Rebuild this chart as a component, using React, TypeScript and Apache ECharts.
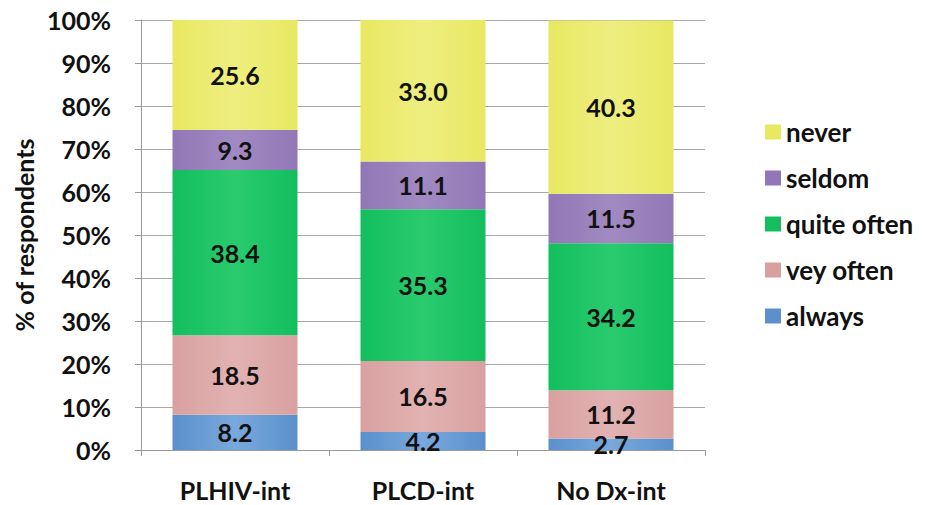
import React, { useEffect, useRef } from "react";
import * as echarts from "echarts";

const categories = ["PLHIV-int", "PLCD-int", "No Dx-int"];
const always = [8.2, 4.2, 2.7];
const veryOften = [18.5, 16.5, 11.2];
const quiteOften = [38.4, 35.3, 34.2];
const seldom = [9.3, 11.1, 11.5];
const never = [25.6, 33.0, 40.3];
const seriesNames = ["always", "vey often", "quite often", "seldom", "never"];
const colors = ["#5B90CC", "#D9A0A0", "#12BE5E", "#9277B6", "#E8E862"];
const colorsLight = ["#79A8DC", "#E2B2B2", "#2ACB6E", "#A18AC2", "#EEEE80"];

const FONT = "Lato";

export default function App() {
  const ref = useRef<HTMLDivElement>(null);
  useEffect(() => {
    if (!ref.current) return;
    const chart = echarts.init(ref.current, undefined, { renderer: "svg" });
    const data = [always, veryOften, quiteOften, seldom, never];
    const grad = (i: number) =>
      new echarts.graphic.LinearGradient(0, 0, 1, 0, [
        { offset: 0, color: colors[i] },
        { offset: 0.5, color: colorsLight[i] },
        { offset: 1, color: colors[i] },
      ]);
    const txt = {
      fontFamily: FONT,
      fontWeight: "bold" as const,
      fontSize: 25,
      color: "#111",
    };
    chart.setOption({
      animation: false,
      textStyle: { fontFamily: FONT },
      grid: {
        left: 141,
        right: 220,
        top: 20,
        bottom: 55,
        containLabel: false,
        outerBoundsMode: "none",
      },
      legend: {
        orient: "vertical",
        left: 760,
        top: 112,
        icon: "rect",
        itemWidth: 16,
        itemHeight: 15,
        itemGap: 16,
        data: [...seriesNames].reverse().map((n, k) => ({
          name: n,
          itemStyle: { color: colors[4 - k] },
        })),
        textStyle: { ...txt, fontSize: 26, lineHeight: 30 },
      },
      xAxis: {
        type: "category",
        data: categories,
        axisLine: { lineStyle: { color: "#9a9a9a" } },
        axisTick: { show: true, length: 6, lineStyle: { color: "#9a9a9a" } },
        axisLabel: { margin: 27, ...txt },
      },
      yAxis: {
        type: "value",
        min: 0,
        max: 100,
        interval: 10,
        name: "% of respondents",
        nameLocation: "middle",
        nameGap: 103,
        nameRotate: 90,
        nameTextStyle: txt,
        axisLine: { show: true, lineStyle: { color: "#9a9a9a" } },
        axisTick: { show: true, length: 6, lineStyle: { color: "#9a9a9a" } },
        splitLine: { lineStyle: { color: "#a8a8a8" } },
        axisLabel: { margin: 30, formatter: "{value}%", ...txt },
      },
      series: seriesNames.map((name, i) => ({
        name,
        type: "bar",
        stack: "total",
        barWidth: 125,
        data: data[i],
        itemStyle: { color: grad(i) },
        label: {
          show: true,
          position: "inside",
          formatter: (p: any) => Number(p.value).toFixed(1),
          ...txt,
        },
      })),
    });
    return () => chart.dispose();
  }, []);
  return (
    <div
      ref={ref}
      style={{ position: "absolute", left: 0, top: 0, width: 925, height: 505 }}
    />
  );
}
